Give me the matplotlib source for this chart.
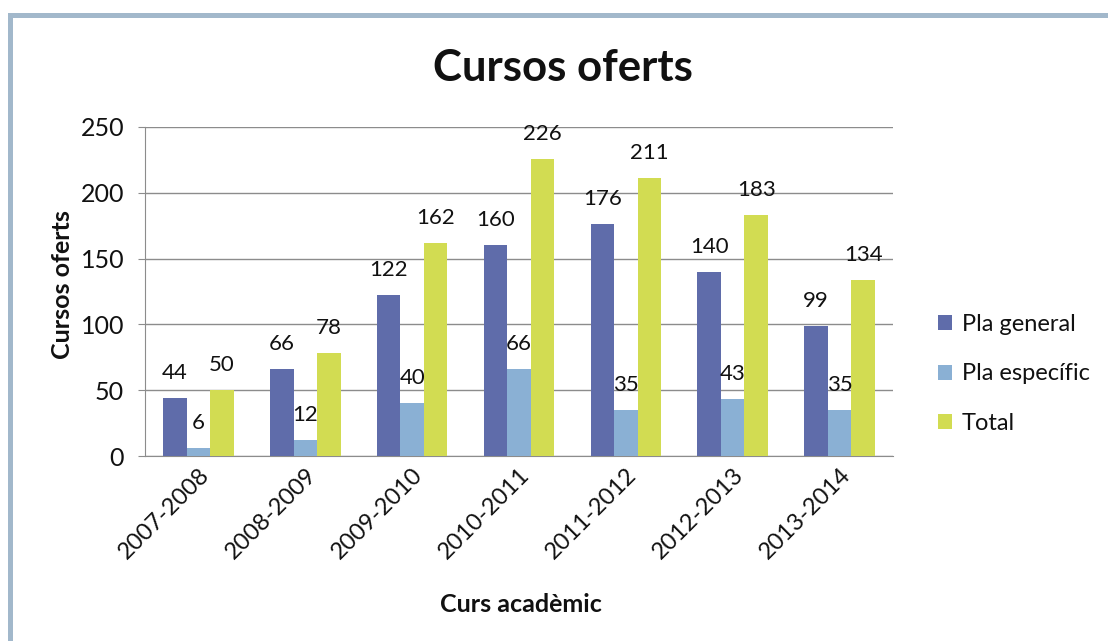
import matplotlib
matplotlib.use("Agg")
import matplotlib.pyplot as plt
import numpy as np
from matplotlib.patches import Rectangle

categories = ["2007-2008", "2008-2009", "2009-2010", "2010-2011", "2011-2012", "2012-2013", "2013-2014"]
pla_general = [44, 66, 122, 160, 176, 140, 99]
pla_especific = [6, 12, 40, 66, 35, 43, 35]
total = [50, 78, 162, 226, 211, 183, 134]
series_names = ["Pla general", "Pla específic", "Total"]
colors = ["#5F6CAA", "#8AB0D4", "#D2DC52"]

plt.rcParams['font.family'] = ['Lato', 'DejaVu Sans']

W, H = 1108, 641
fig = plt.figure(figsize=(W / 100, H / 100), dpi=100)
fig.patch.set_facecolor("white")

# outer frame
fig.patches.append(Rectangle((10 / W, -0.1), 1.2, 1 - 14.5 / H + 0.1, transform=fig.transFigure,
                             fill=False, edgecolor="#A2B8CB", linewidth=3.6))

ax = fig.add_axes([145 / W, 1 - 456 / H, (893 - 145) / W, (456 - 127) / H])
x = np.arange(len(categories))
bw = 0.22
data = [pla_general, pla_especific, total]
for i, (vals, name, c) in enumerate(zip(data, series_names, colors)):
    pos = x + (i - 1) * bw
    ax.bar(pos, vals, width=bw, color=c, label=name, zorder=3)
    for p, v in zip(pos, vals):
        ax.annotate(str(v), (p, v), xytext=(0, 25), textcoords="offset pixels",
                    ha="center", va="center", fontsize=16, color="#111111", zorder=4)

ax.set_xlim(-0.5, len(categories) - 0.5)
ax.set_ylim(0, 250)
ax.set_yticks([0, 50, 100, 150, 200, 250])
ax.yaxis.grid(True, color="#8C8C8C", linewidth=1.0, zorder=0)
ax.set_axisbelow(True)
for s in ["top", "right"]:
    ax.spines[s].set_visible(False)
ax.spines["left"].set_color("#8C8C8C")
ax.spines["bottom"].set_color("#8C8C8C")
ax.tick_params(axis="y", length=5, color="#8C8C8C", labelsize=18, pad=10, labelcolor="#111111")
ax.tick_params(axis="x", length=0, labelsize=17, pad=6, labelcolor="#111111")
ax.set_xticks(x)
ax.set_xticklabels(categories, rotation=45, ha="right", rotation_mode="anchor")

fig.text(62 / W, 1 - 285 / H, "Cursos oferts", ha="center", va="center", rotation=90,
         fontsize=18, fontweight="bold", color="#111111")
fig.text(521 / W, 1 - 604 / H, "Curs acadèmic", ha="center", va="center", fontsize=18,
         fontweight="bold", color="#111111")
fig.text(563 / W, 1 - 68 / H, "Cursos oferts", ha="center", va="center", fontsize=31.5,
         fontweight="bold", color="#111111")

leg = ax.legend(loc="center left", bbox_to_anchor=(917 / W, 1 - 374 / H), bbox_transform=fig.transFigure,
                frameon=False, fontsize=17, handlelength=0.6, handleheight=0.6, handletextpad=0.4,
                labelspacing=1.2)
for t in leg.get_texts():
    t.set_color("#111111")

fig.savefig("out.png", dpi=100)
